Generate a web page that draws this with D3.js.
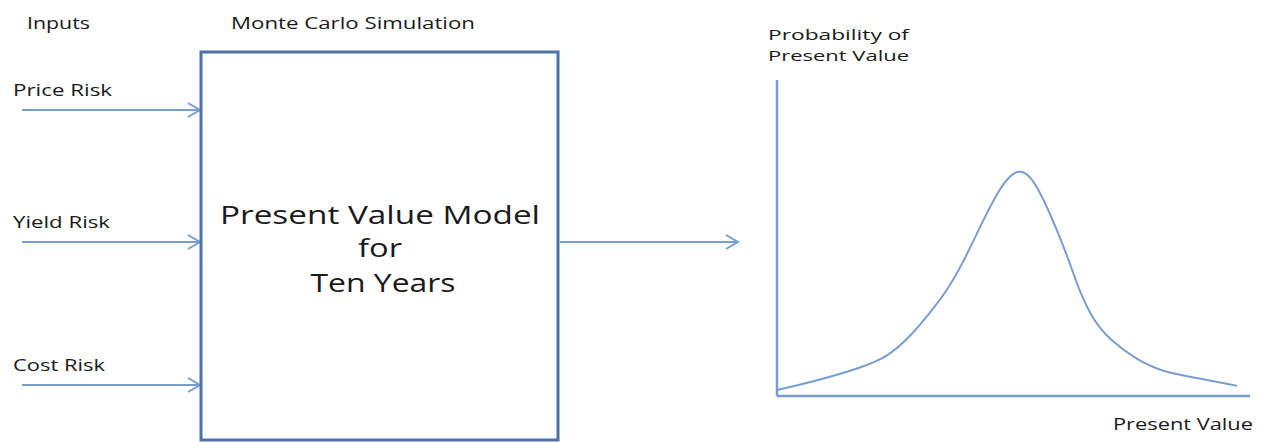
<!DOCTYPE html>
<html><head><meta charset="utf-8">
<script src="https://cdn.jsdelivr.net/npm/d3@7"></script>
<style>body{margin:0;background:#fff}svg{display:block}text{font-family:"Open Sans",sans-serif;fill:#1a1a1a}</style>
</head><body><svg id="c" width="1262" height="442"></svg>
<script>
const inputs = ["Price Risk", "Yield Risk", "Cost Risk"];
const inputY = [110, 242, 385];
const inputW = [99, 97, 92];
const modelLines = ["Present Value Model", "for", "Ten Years"];
const pv =   [0, 9.1, 18.2, 23.3, 28.1, 32.3, 35.9, 39.3, 42.3, 45.0, 47.8, 50.3, 51.4, 53.5, 56.2, 59.8, 61.9, 64.1, 66.8, 70.4, 76.1, 81.6, 88.8, 97.3];
const prob = [1.9, 5.1, 9.2, 12.3, 18.7, 26.3, 33.2, 42.1, 51.6, 59.8, 67.4, 70.9, 71.2, 69.9, 63.0, 50.3, 42.1, 32.6, 24.1, 17.7, 11.4, 7.6, 5.7, 3.2];

const svg = d3.select("#c");
const arrowCol = "#7a9dd0", boxCol = "#4d72a8";

function arrow(x1, x2, y) {
  svg.append("line").attr("x1", x1).attr("x2", x2).attr("y1", y).attr("y2", y)
    .attr("stroke", arrowCol).attr("stroke-width", 2);
  svg.append("path").attr("d", `M${x2-12},${y-7}L${x2},${y}L${x2-12},${y+7}`)
    .attr("fill", "none").attr("stroke", arrowCol).attr("stroke-width", 2);
}
function label(t, x0, y0, w, fs) {
  return svg.append("text").attr("x", x0).attr("y", y0).attr("font-size", fs || 16)
    .attr("textLength", w).attr("lengthAdjust", "spacingAndGlyphs").text(t);
}

// headers
label("Inputs", 27, 29, 63, 17);
label("Monte Carlo Simulation", 231, 29, 244, 16);

// inputs
inputs.forEach((t, i) => {
  label(t, 13, inputY[i] - 14, inputW[i], 17);
  arrow(22, 200, inputY[i]);
});

// box
svg.append("rect").attr("x", 201).attr("y", 52).attr("width", 357).attr("height", 388)
  .attr("fill", "none").attr("stroke", boxCol).attr("stroke-width", 3);
const mlY = [224, 257, 292], mlW = [320, 44, 145], mlX = [380, 380, 383];
modelLines.forEach((t, i) => {
  svg.append("text").attr("x", mlX[i]).attr("y", mlY[i]).attr("text-anchor", "middle")
    .attr("font-size", 25).attr("textLength", mlW[i]).attr("lengthAdjust", "spacingAndGlyphs").text(t);
});

// output arrow
arrow(560, 738, 242);

// chart
const x = d3.scaleLinear().domain([0, 100]).range([777, 1250]);
const y = d3.scaleLinear().domain([0, 100]).range([396, 80]);
svg.append("line").attr("x1", x(0)).attr("x2", x(0)).attr("y1", y(100)).attr("y2", y(0))
  .attr("stroke", arrowCol).attr("stroke-width", 2.5);
svg.append("line").attr("x1", x(0)).attr("x2", x(100)).attr("y1", y(0)).attr("y2", y(0))
  .attr("stroke", arrowCol).attr("stroke-width", 2.5);
const line = d3.line().x(d => x(d[0])).y(d => y(d[1])).curve(d3.curveBasis);
svg.append("path").attr("d", line(pv.map((v, i) => [v, prob[i]])))
  .attr("fill", "none").attr("stroke", arrowCol).attr("stroke-width", 2);

label("Probability of", 768, 40, 141, 15);
label("Present Value", 768, 61, 141, 15);
label("Present Value", 1113, 430, 140, 16);
</script></body></html>
